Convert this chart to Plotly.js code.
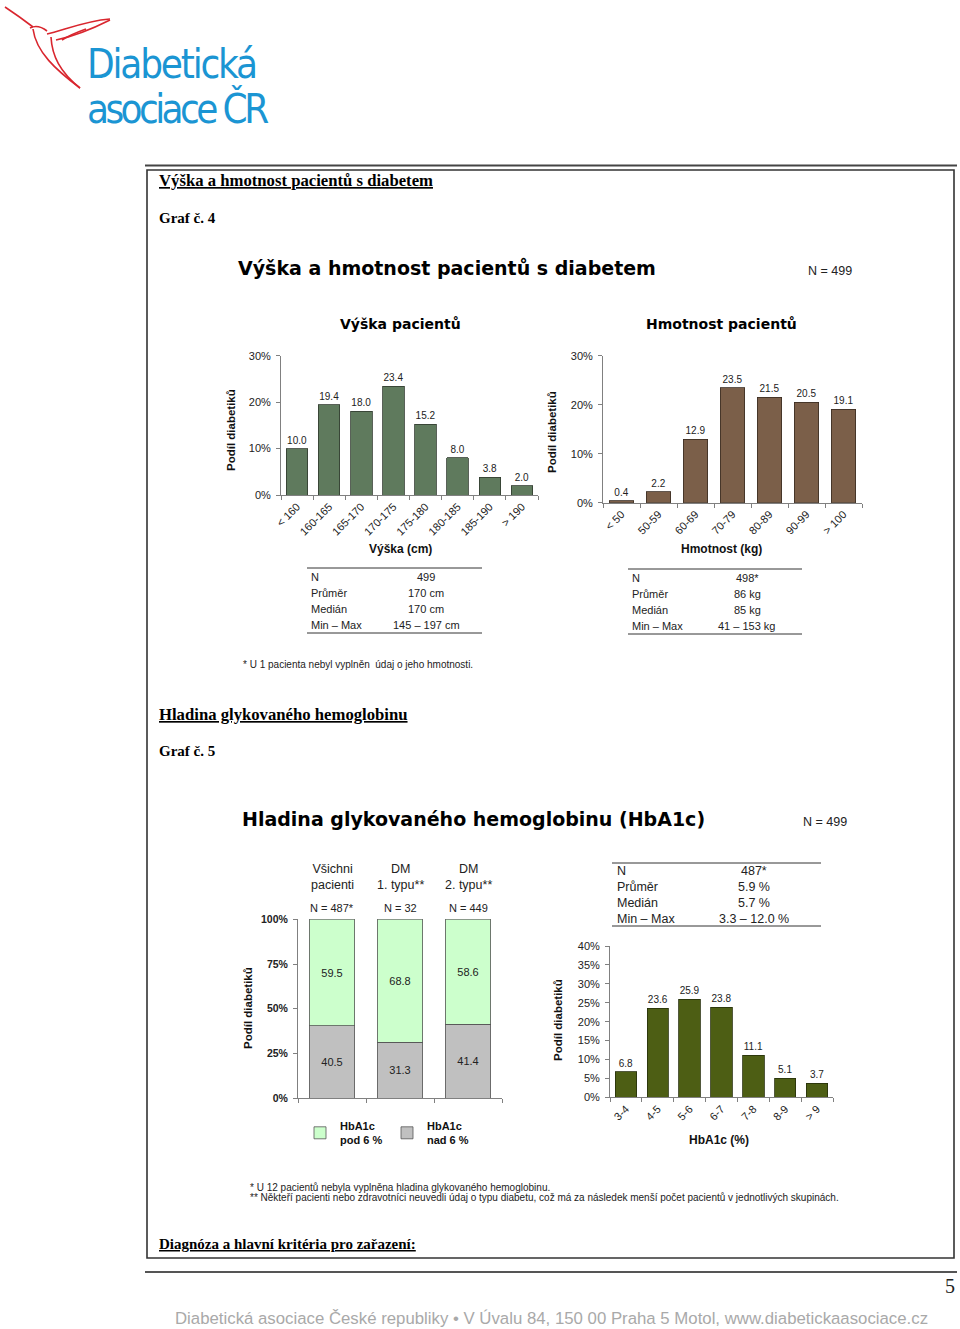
<!DOCTYPE html>
<html>
<head>
<meta charset="utf-8">
<script src="https://cdn.plot.ly/plotly-3.0.1.min.js"></script>
<style>
html, body { margin: 0; padding: 0; background: #fff; }
#page { width: 960px; height: 1329px; }
</style>
</head>
<body>
<div id="page"></div>
<script>
// data
const heightCats = ['< 160', '160-165', '165-170', '170-175', '175-180', '180-185', '185-190', '> 190'];
const heightPct = [10.0, 19.4, 18.0, 23.4, 15.2, 8.0, 3.8, 2.0];
const weightCats = ['< 50', '50-59', '60-69', '70-79', '80-89', '90-99', '> 100'];
const weightPct = [0.4, 2.2, 12.9, 23.5, 21.5, 20.5, 19.1];
const groupCats = ['Všichni<br>pacienti', 'DM<br>1. typu**', 'DM<br>2. typu**'];
const groupN = ['N = 487*', 'N = 32', 'N = 449'];
const belowSix = [59.5, 68.8, 58.6];
const aboveSix = [40.5, 31.3, 41.4];
const hbaCats = ['3-4', '4-5', '5-6', '6-7', '7-8', '8-9', '> 9'];
const hbaPct = [6.8, 23.6, 25.9, 23.8, 11.1, 5.1, 3.7];
const statLabels = ['N', 'Průměr', 'Medián', 'Min – Max'];
const heightStats = ['499', '170 cm', '170 cm', '145 – 197 cm'];
const weightStats = ['498*', '86 kg', '85 kg', '41 – 153 kg'];
const hbaStats = ['487*', '5.9 %', '5.7 %', '3.3 – 12.0 %'];

const W = 960, H = 1329;
const SANS = 'Liberation Sans, Arial, sans-serif';
const WIDE = 'DejaVu Sans, Verdana, sans-serif';
const SERIF = 'Liberation Serif, Times New Roman, serif';
const LOGO = 'DejaVu Sans Condensed, DejaVu Sans, sans-serif';
const fx = p => p / W;
const fy = p => 1 - p / H;

function note(text, x, y, font, extra) {
    return Object.assign({
        text: text, x: fx(x), y: fy(y), xref: 'paper', yref: 'paper',
        showarrow: false, xanchor: 'left', yanchor: 'middle',
        font: Object.assign({family: SANS, size: 10, color: '#222'}, font)
    }, extra || {});
}

function line(x0, y0, x1, y1, w, c) {
    return {type: 'line', xref: 'paper', yref: 'paper', x0: fx(x0), y0: fy(y0), x1: fx(x1), y1: fy(y1),
        line: {width: w, color: c}};
}

// convert "x,y" pixel pairs in a path to paper coords
function pp(str) {
    return str.replace(/(-?\d+\.?\d*),(-?\d+\.?\d*)/g, (m, a, b) => fx(+a).toFixed(5) + ',' + fy(+b).toFixed(5));
}

function barAxisX(domain, angle, labels) {
    return {
        domain: [fx(domain[0]), fx(domain[1])], type: 'category', tickangle: angle,
        showline: true, linecolor: '#808080', linewidth: 1, ticks: 'outside', ticklen: 4, tickcolor: '#808080',
        tickson: 'boundaries', showgrid: false, zeroline: false, showticklabels: labels,
        tickfont: {family: SANS, size: 11, color: '#222'}, fixedrange: true
    };
}

function barAxisY(top, bottom, max, step, anchor, bold) {
    return {
        domain: [fy(bottom), fy(top)], range: [0, max], dtick: step, ticksuffix: '%', anchor: anchor,
        showline: true, linecolor: '#808080', linewidth: 1, ticks: 'outside', ticklen: 4, tickcolor: '#808080',
        showgrid: false, zeroline: false, ticklabelstandoff: 3,
        tickfont: {family: SANS, size: bold ? 10.5 : 11, color: '#222', weight: bold ? 'bold' : 'normal'},
        fixedrange: true
    };
}

const outsideLabel = {
    type: 'bar', texttemplate: '%{y:.1f}', textposition: 'outside', cliponaxis: false, constraintext: 'none',
    textfont: {family: SANS, size: 10, color: '#222'}, showlegend: false, hoverinfo: 'skip'
};

const traces = [
    Object.assign({}, outsideLabel, {
        x: heightCats, y: heightPct, xaxis: 'x', yaxis: 'y', width: 0.67,
        marker: {color: '#5f7a5d', line: {color: '#2f3a2e', width: 0.8}}
    }),
    Object.assign({}, outsideLabel, {
        x: weightCats, y: weightPct, xaxis: 'x2', yaxis: 'y2', width: 0.67,
        marker: {color: '#7b5f49', line: {color: '#3a2c22', width: 0.8}}
    }),
    {
        type: 'bar', name: 'HbA1c<br>nad 6 %', x: groupCats, y: aboveSix, xaxis: 'x3', yaxis: 'y3', width: 0.67,
        marker: {color: '#c0c0c0', line: {color: '#555', width: 0.8}},
        texttemplate: '%{y:.1f}', textposition: 'inside', insidetextanchor: 'middle', constraintext: 'none',
        insidetextfont: {family: SANS, size: 11, color: '#222'}, hoverinfo: 'skip'
    },
    {
        type: 'bar', name: 'HbA1c<br>pod 6 %', x: groupCats, y: belowSix, xaxis: 'x3', yaxis: 'y3', width: 0.67,
        marker: {color: '#ccffcc', line: {color: '#555', width: 0.8}},
        texttemplate: '%{y:.1f}', textposition: 'inside', insidetextanchor: 'middle', constraintext: 'none',
        insidetextfont: {family: SANS, size: 11, color: '#222'}, hoverinfo: 'skip'
    },
    Object.assign({}, outsideLabel, {
        x: hbaCats, y: hbaPct, xaxis: 'x4', yaxis: 'y4', width: 0.67,
        marker: {color: '#4d5e14', line: {color: '#262e0a', width: 0.8}}
    })
];

const annotations = [
    // logo text
    note('<span style="letter-spacing:-2.2px;font-stretch:condensed">Diabetická</span>', 85, 64,
        {family: LOGO, size: 40, color: '#1b95d3'}),
    note('<span style="letter-spacing:-3.6px;font-stretch:condensed">asociace ČR</span>', 85, 108,
        {family: LOGO, size: 40, color: '#1b95d3'}),
    // section headings
    note('Výška a hmotnost pacientů s diabetem', 157, 181, {family: SERIF, size: 16.7, weight: 'bold', color: '#000', lineposition: 'under'}),
    note('Graf č. 4', 157, 218, {family: SERIF, size: 15, weight: 'bold', color: '#000'}),
    note('Výška a hmotnost pacientů s diabetem', 447, 268, {family: WIDE, size: 19, weight: 'bold', color: '#000'}, {xanchor: 'center'}),
    note('N = 499', 806, 271, {size: 12.5, color: '#222'}),
    note('Výška pacientů', 400, 324, {family: WIDE, size: 14, weight: 'bold', color: '#000'}, {xanchor: 'center'}),
    note('Hmotnost pacientů', 721, 324, {family: WIDE, size: 14, weight: 'bold', color: '#000'}, {xanchor: 'center'}),
    note('Podíl diabetiků', 231, 430, {size: 11.5, weight: 'bold', color: '#111'}, {xanchor: 'center', textangle: -90}),
    note('Podíl diabetiků', 552, 432, {size: 11.5, weight: 'bold', color: '#111'}, {xanchor: 'center', textangle: -90}),
    note('Výška (cm)', 400, 549, {size: 12, weight: 'bold', color: '#111'}, {xanchor: 'center'}),
    note('Hmotnost (kg)', 721, 549, {size: 12, weight: 'bold', color: '#111'}, {xanchor: 'center'}),
    note('* U 1 pacienta nebyl vyplněn  údaj o jeho hmotnosti.', 241, 664, {size: 10, color: '#222'}),
    note('Hladina glykovaného hemoglobinu', 157, 714, {family: SERIF, size: 16.7, weight: 'bold', color: '#000', lineposition: 'under'}),
    note('Graf č. 5', 157, 751, {family: SERIF, size: 15, weight: 'bold', color: '#000'}),
    note('Hladina glykovaného hemoglobinu (HbA1c)', 473, 819, {family: WIDE, size: 19, weight: 'bold', color: '#000'}, {xanchor: 'center'}),
    note('N = 499', 801, 822, {size: 12.5, color: '#222'}),
    note('Podíl diabetiků', 248, 1008, {size: 11.5, weight: 'bold', color: '#111'}, {xanchor: 'center', textangle: -90}),
    note('Podíl diabetiků', 558, 1020, {size: 11.5, weight: 'bold', color: '#111'}, {xanchor: 'center', textangle: -90}),
    note('HbA1c (%)', 719, 1140, {size: 12, weight: 'bold', color: '#111'}, {xanchor: 'center'}),
    note('* U 12 pacientů nebyla vyplněna hladina glykovaného hemoglobinu.', 248, 1187, {size: 10, color: '#222'}),
    note('** Někteří pacienti nebo zdravotníci neuvedli údaj o typu diabetu, což má za následek menší počet pacientů v jednotlivých skupinách.', 248, 1197, {size: 10, color: '#222'}),
    note('Diagnóza a hlavní kritéria pro zařazení:', 157, 1244, {family: SERIF, size: 15, weight: 'bold', color: '#000', lineposition: 'under'}),
    note('5', 950, 1286, {family: SERIF, size: 20, color: '#222'}, {xanchor: 'center'}),
    note('Diabetická asociace České republiky • V Úvalu 84, 150 00 Praha 5 Motol, www.diabetickaasociace.cz', 551, 1318,
        {size: 16.8, color: '#a9a9a9'}, {xanchor: 'center'})
];

// group headers above the stacked bars
groupCats.forEach((g, i) => {
    annotations.push({text: g, x: i, y: fy(877), xref: 'x3', yref: 'paper', showarrow: false,
        xanchor: 'center', yanchor: 'middle', font: {family: SANS, size: 12.5, color: '#222'}});
    annotations.push({text: groupN[i], x: i, y: fy(908), xref: 'x3', yref: 'paper', showarrow: false,
        xanchor: 'center', yanchor: 'middle', font: {family: SANS, size: 11, color: '#222'}});
});

// stats tables
function table(rows, values, xl, xv, yTop, size) {
    rows.forEach((r, i) => {
        annotations.push(note(r, xl, yTop + i * 16, {size: size, color: '#222'}));
        annotations.push(note(values[i], xv, yTop + i * 16, {size: size, color: '#222'}, {xanchor: 'center'}));
    });
}
table(statLabels, heightStats, 309, 426, 577, 11);
table(statLabels, weightStats, 630, 747, 578, 11);
table(statLabels, hbaStats, 615, 754, 871, 12.5);

const shapes = [
    line(145, 165.5, 957, 165.5, 2, '#444'),
    {type: 'rect', xref: 'paper', yref: 'paper', x0: fx(147), y0: fy(170), x1: fx(954), y1: fy(1258),
        line: {width: 1.6, color: '#333'}},
    line(145, 1272, 957, 1272, 2, '#555'),
    line(307, 568, 482, 568, 1, '#333'),
    line(307, 633, 482, 633, 1, '#333'),
    line(628, 569, 802, 569, 1, '#333'),
    line(628, 634, 802, 634, 1, '#333'),
    line(612, 863, 821, 863, 1, '#333'),
    line(612, 926, 821, 926, 1, '#333')
];

// hummingbird strokes of the logo
const birdPaths = [
    'M5,7 Q20,17 33,27',
    'M30,28 Q38,24 47,31',
    'M47,34 C62,31 84,21 110,19',
    'M110,20 C96,27 76,36 56,40',
    'M33,29 C36,52 56,70 80,88',
    'M51,37 C52,56 60,72 80,88',
    'M62,40 C68,36 75,33 86,29'
];
birdPaths.forEach(p => shapes.push({type: 'path', xref: 'paper', yref: 'paper', path: pp(p),
    line: {color: '#d9262e', width: 1.6}}));

const layout = {
    width: W, height: H, margin: {l: 0, r: 0, t: 0, b: 0},
    paper_bgcolor: '#fff', plot_bgcolor: 'rgba(0,0,0,0)',
    barmode: 'stack', font: {family: SANS, color: '#222'},
    xaxis: Object.assign(barAxisX([281, 538], -45, true), {anchor: 'y'}),
    yaxis: barAxisY(355.7, 495, 30, 10, 'x', false),
    xaxis2: Object.assign(barAxisX([603, 862], -45, true), {anchor: 'y2'}),
    yaxis2: barAxisY(355.7, 502.7, 30, 10, 'x2', false),
    xaxis3: Object.assign(barAxisX([298, 502], 0, false), {anchor: 'y3'}),
    yaxis3: barAxisY(919.3, 1098.3, 100, 25, 'x3', true),
    xaxis4: Object.assign(barAxisX([610, 833], -45, true), {anchor: 'y4'}),
    yaxis4: barAxisY(946, 1097.3, 40, 5, 'x4', false),
    showlegend: true,
    legend: {
        orientation: 'h', x: fx(300), y: fy(1112), xanchor: 'left', yanchor: 'top',
        traceorder: 'reversed', entrywidth: 42, entrywidthmode: 'pixels',
        font: {family: SANS, size: 11, weight: 'bold', color: '#111'}, bgcolor: 'rgba(0,0,0,0)'
    },
    annotations: annotations,
    shapes: shapes
};

Plotly.newPlot('page', traces, layout, {displayModeBar: false, staticPlot: true});
</script>
</body>
</html>
